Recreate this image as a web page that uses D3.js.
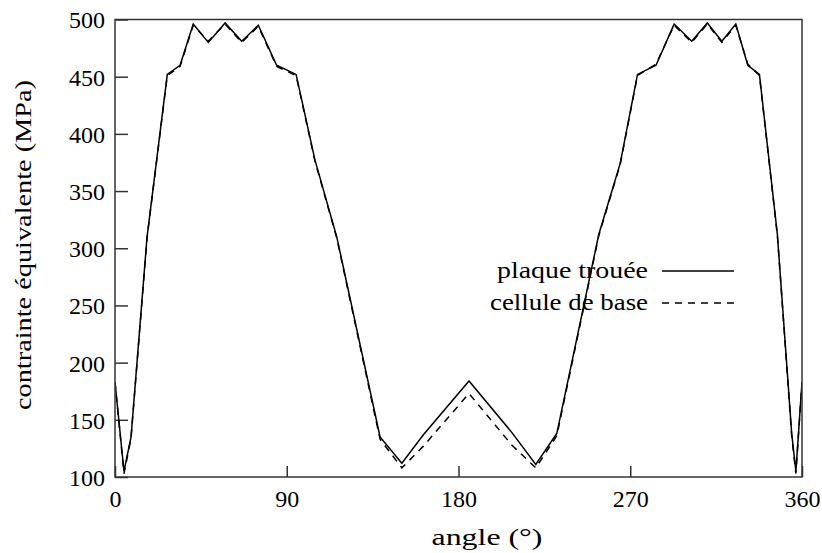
<!DOCTYPE html>
<html>
<head>
<meta charset="utf-8">
<script src="https://cdn.jsdelivr.net/npm/d3@7"></script>
<style>
  body { margin: 0; background: #fff; }
</style>
</head>
<body>
<div id="chart"></div>
<script>
 //angles (degrees) of the points
 var angles = [0, 4.7, 8.4, 16.8, 27.4, 34.1, 41.0, 48.9, 57.7, 66.4, 75.1, 84.7, 94.9,
     104.8, 116.2, 138.9, 150.3, 161.6, 185.5, 207.9, 220.5, 231.5, 253.5, 264.7,
     273.8, 283.5, 293.0, 302.2, 310.4, 318.0, 325.3, 331.6, 337.7, 347.1, 354.6, 356.8, 360];

 //plaque trouee (solid)
 var plaque = [183, 105, 135, 310, 452, 460, 496, 480, 497, 481, 495, 460, 452,
     377, 310, 135, 112, 137, 184, 139, 111, 138, 312, 374,
     452, 460, 496, 481, 497, 481, 496, 460, 452, 312, 138, 105, 183];

 //cellule de base (dashed)
 var cellule = [183, 103, 134, 309, 451, 459, 495, 481, 496, 480, 494, 459, 451,
     376, 309, 133, 108, 127, 173, 128, 108, 136, 311, 373,
     451, 461, 495, 480, 496, 480, 495, 461, 451, 311, 136, 103, 183];

 var xTicks = [0, 90, 180, 270, 360];
 var yTicks = [100, 150, 200, 250, 300, 350, 400, 450, 500];

 var series = [
     { name: "plaque trouée", values: plaque, dash: null, len: 151 },
     { name: "cellule de base", values: cellule, dash: "7,6", len: 158 }
 ];

 var font = "'Liberation Serif', serif";

 //plot frame in page pixels
 var margin = { left: 115, right: 802, top: 19.5, bottom: 477 };

 var svg = d3.select("#chart")
     .append("svg")
     .attr("width", 822)
     .attr("height", 553)
     .attr("font-family", font);

 var xScale = d3.scaleLinear().domain([0, 360]).range([margin.left, margin.right]);
 var yScale = d3.scaleLinear().domain([100, 500]).range([margin.bottom, margin.top]);

 svg.append("clipPath")
     .attr("id", "clip")
     .append("rect")
     .attr("x", margin.left).attr("y", margin.top)
     .attr("width", margin.right - margin.left).attr("height", margin.bottom - margin.top);

 //axes, ticks pointing inward
 var xAxis = d3.axisBottom(xScale).tickValues(xTicks).tickSizeInner(-11).tickSizeOuter(0);
 var yAxis = d3.axisLeft(yScale).tickValues(yTicks).tickSizeInner(-13).tickSizeOuter(0);

 var gx = svg.append("g")
     .attr("transform", "translate(0," + margin.bottom + ")")
     .call(xAxis);
 var gy = svg.append("g")
     .attr("transform", "translate(" + margin.left + ",0)")
     .call(yAxis);

 [gx, gy].forEach(function (g) {
     g.attr("font-family", font).attr("font-size", 24);
     g.select(".domain").remove();
     g.selectAll(".tick line").attr("stroke", "#333").attr("stroke-width", 1.5);
     g.selectAll(".tick text").attr("fill", "#000");
 });
 gx.selectAll(".tick text").attr("y", 13).attr("dy", "0.71em");
 gy.selectAll(".tick text").attr("x", -10).attr("dy", "0.35em");

 //lines
 var line = d3.line()
     .x(function (d) { return xScale(d[0]); })
     .y(function (d) { return yScale(d[1]); });

 series.forEach(function (s) {
     svg.append("path")
         .datum(angles.map(function (a, i) { return [a, s.values[i]]; }))
         .attr("clip-path", "url(#clip)")
         .attr("fill", "none")
         .attr("stroke", "#000")
         .attr("stroke-width", 1.5)
         .attr("stroke-dasharray", s.dash)
         .attr("d", line);
 });

 //frame
 svg.append("rect")
     .attr("x", margin.left).attr("y", margin.top)
     .attr("width", margin.right - margin.left).attr("height", margin.bottom - margin.top)
     .attr("fill", "none")
     .attr("stroke", "#333")
     .attr("stroke-width", 1.5);

 //legend
 var legend = svg.append("g");
 series.forEach(function (s, i) {
     var ly = 271 + i * 32;
     legend.append("text")
         .attr("x", 648).attr("y", ly + 7)
         .attr("text-anchor", "end")
         .attr("font-size", 24)
         .attr("textLength", s.len)
         .attr("lengthAdjust", "spacingAndGlyphs")
         .text(s.name);
     legend.append("line")
         .attr("x1", 662).attr("x2", 734)
         .attr("y1", ly).attr("y2", ly)
         .attr("stroke", "#000")
         .attr("stroke-width", 1.5)
         .attr("stroke-dasharray", s.dash);
 });

 //axis titles
 svg.append("text")
     .attr("x", 487).attr("y", 545)
     .attr("text-anchor", "middle")
     .attr("font-size", 24)
     .attr("textLength", 111)
     .attr("lengthAdjust", "spacingAndGlyphs")
     .text("angle (°)");

 svg.append("text")
     .attr("transform", "translate(31,245) rotate(-90)")
     .attr("text-anchor", "middle")
     .attr("font-size", 24)
     .attr("textLength", 330)
     .attr("lengthAdjust", "spacingAndGlyphs")
     .text("contrainte équivalente (MPa)");
</script>
</body>
</html>
